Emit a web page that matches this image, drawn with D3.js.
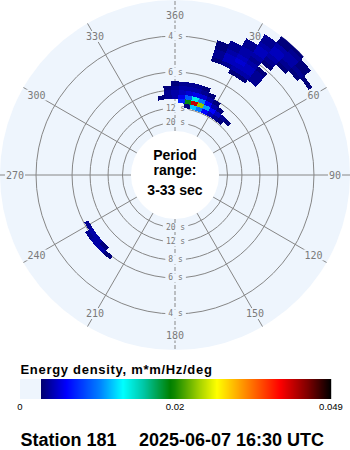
<!DOCTYPE html>
<html>
<head>
<meta charset="utf-8">
<script src="https://cdn.jsdelivr.net/npm/d3@7"></script>
<style>
  html, body { margin: 0; padding: 0; background: #ffffff; }
  svg { display: block; }
</style>
</head>
<body>
<svg id="chart" width="350" height="450"></svg>
<script>
// ---- Directional wave spectrum, station 181 ----
// Frequency rows (Hz); each row holds energy values for consecutive 5° direction bins
const frequencies = [0.09, 0.10, 0.11, 0.12, 0.13, 0.14,
                     0.16, 0.17,
                     0.20, 0.21, 0.22, 0.23, 0.24, 0.25, 0.26, 0.27, 0.28, 0.29, 0.30, 0.31, 0.32, 0.33];
// Direction (deg, clockwise from north) of the first bin in each row
const rowStartDirections = [10, 5, -10, -5, -5, 0,
                            225, 220,
                            30, 20, 20, 20, 20, 20, 25, 30, 30, 35, 35, 35, 40, 40];
// Energy density, m*m/Hz/deg
const rowEnergy = [
  [0.003, 0.012, 0.010, 0.006, 0.0045, 0.0035, 0.003],
  [0.007, 0.019, 0.042, 0.024, 0.011, 0.006, 0.0045, 0.0035, 0.003],
  [0.003, 0.0035, 0.004, 0.0055, 0.009, 0.014, 0.010, 0.006, 0.004, 0.003],
  [0.0035, 0.004, 0.0045, 0.005, 0.0055, 0.005, 0.004, 0.003],
  [0.003, 0.0035, 0.004, 0.004, 0.004, 0.0035, 0.003],
  [0.003, 0.0035, 0.0035, 0.0035, 0.003],
  [0.003, 0.004, 0.004, 0.0035],
  [0.003, 0.004, 0.004, 0.0035],
  [0.003, 0.003],
  [0.003, 0.0035, 0.004, 0.004, 0.0035],
  [0.0035, 0.0045, 0.0045, 0.0045, 0.0035],
  [0.0035, 0.0045, 0.005, 0.0045, 0.0035],
  [0.003, 0.004, 0.0045, 0.004, 0.003],
  [0.003, 0.0035, 0.004, 0.0035],
  [0.0035, 0.004, 0.004, 0.003],
  [0.0035, 0.0045, 0.0035],
  [0.0035, 0.0045, 0.004, 0.003],
  [0.004, 0.0045, 0.0035, 0.003],
  [0.0035, 0.0045, 0.004, 0.0035, 0.003],
  [0.0035, 0.004, 0.004, 0.003],
  [0.003, 0.0035, 0.003],
  [0.003, 0.003]
];

// Axis ticks
const periodTicks = [4, 6, 8, 12, 20];                 // seconds
const directionTicks = [0, 30, 60, 90, 120, 150, 180, 210, 240, 270, 300, 330];
const directionLabels = ["360", "30", "60", "90", "120", "150", "180", "210", "240", "270", "300", "330"];
const periodRange = [3, 33];                            // seconds

// Colour bar
const barTicks = [0, 0.02, 0.049];
const barTickLabels = ["0", "0.02", "0.049"];
const rampStops = [0.0027, 0.0060, 0.0103, 0.0133, 0.0159, 0.0194, 0.0247, 0.0278, 0.0321, 0.0395, 0.0446, 0.049];
const rampColors = ["#00006e", "#0000ff", "#0080ff", "#00ffff", "#00c8a8", "#008000",
                    "#a8d400", "#ffff00", "#ffa000", "#ff0000", "#800000", "#000000"];

const stationName = "Station 181";
const timeStamp = "2025-06-07 16:30 UTC";

// ---- layout ----
const CX = 175, CY = 175, R_OUT = 175, R_IN = 44;
const DF = 0.01, DD = 5;
const DISK = "#eef5fd", GRID = "#868686", LABEL = "#7a7a7a";

const svg = d3.select("#chart");

const rScale = d3.scaleLinear()
  .domain([1 / periodRange[1], 1 / periodRange[0]])
  .range([R_IN, R_OUT]);
const aScale = d3.scaleLinear().domain([0, 360]).range([0, 2 * Math.PI]);
const color = d3.scaleLinear().domain(rampStops).range(rampColors)
  .interpolate(d3.interpolateRgb).clamp(true);

svg.append("defs").append("clipPath").attr("id", "disk-clip")
  .append("circle").attr("cx", 0).attr("cy", 0).attr("r", R_OUT);

const polar = svg.append("g").attr("transform", `translate(${CX},${CY})`);

// background disk
polar.append("circle").attr("r", R_OUT).attr("fill", DISK);

// period circles
polar.append("g").selectAll("circle")
  .data(periodTicks).join("circle")
  .attr("r", p => rScale(1 / p))
  .attr("fill", "none")
  .attr("stroke", GRID)
  .attr("stroke-width", 1);

// direction spokes
const px = (r, d) => r * Math.sin(aScale(d));
const py = (r, d) => -r * Math.cos(aScale(d));
polar.append("g").selectAll("line")
  .data(directionTicks).join("line")
  .attr("x1", d => px(R_IN, d)).attr("y1", d => py(R_IN, d))
  .attr("x2", d => px(R_OUT, d)).attr("y2", d => py(R_OUT, d))
  .attr("stroke", GRID)
  .attr("stroke-width", 1)
  .attr("stroke-dasharray", d => (d % 180 === 0 ? "4,2" : null));

// labels with knocked-out backgrounds
function knockLabel(g, x, y, text, font, size, padX) {
  const t = g.append("text")
    .attr("x", x).attr("y", y)
    .attr("text-anchor", "middle")
    .attr("dominant-baseline", "central")
    .attr("font-family", font)
    .attr("font-size", size)
    .attr("fill", LABEL)
    .text(text);
  const b = t.node().getBBox();
  g.insert("rect", () => t.node())
    .attr("x", b.x - padX).attr("y", b.y)
    .attr("width", b.width + 2 * padX).attr("height", b.height)
    .attr("fill", DISK);
}

const dirLabelG = polar.append("g");
directionTicks.forEach((d, i) => {
  knockLabel(dirLabelG, px(160, d), py(160, d), directionLabels[i], "DejaVu Sans Mono", 10, 1);
});

const perLabelG = polar.append("g");
periodTicks.forEach(p => {
  const r = rScale(1 / p);
  knockLabel(perLabelG, 0.5, -r, `${p} s`, "DejaVu Sans Mono", 8, 3);
  knockLabel(perLabelG, 0.5, r, `${p} s`, "DejaVu Sans Mono", 8, 3);
});

// spectrum cells
const cells = [];
frequencies.forEach((f, i) => {
  rowEnergy[i].forEach((v, j) => {
    cells.push({ f, dir: rowStartDirections[i] + j * DD, v });
  });
});
const cellArc = d3.arc()
  .innerRadius(d => rScale(d.f - DF / 2))
  .outerRadius(d => rScale(d.f + DF / 2))
  .startAngle(d => aScale(d.dir - DD / 2))
  .endAngle(d => aScale(d.dir + DD / 2));

polar.append("g").attr("clip-path", "url(#disk-clip)")
  .attr("shape-rendering", "crispEdges")
  .selectAll("path")
  .data(cells.filter(c => c.v >= rampStops[0])).join("path")
  .attr("d", cellArc)
  .attr("fill", d => color(d.v));

// inner period limit
polar.append("circle").attr("r", R_IN).attr("fill", "#ffffff");

const centre = polar.append("g")
  .attr("font-family", "Liberation Sans, Arial, sans-serif")
  .attr("font-weight", "bold")
  .attr("font-size", 14)
  .attr("text-anchor", "middle")
  .attr("fill", "#000");
centre.append("text").attr("x", 0).attr("y", -15).text("Period");
centre.append("text").attr("x", 0).attr("y", -0.5).text("range:");
centre.append("text").attr("x", 0).attr("y", 20).text(`${periodRange[0]}-${periodRange[1]} sec`);

// ---- colour bar ----
const barScale = d3.scaleLinear().domain(barTicks).range([20, 175, 331]);
const BAR_Y = 379, BAR_H = 20;

svg.append("text")
  .attr("x", 20.5).attr("y", 374)
  .attr("font-family", "Liberation Sans, Arial, sans-serif")
  .attr("font-weight", "bold")
  .attr("font-size", 13)
  .attr("letter-spacing", 0.7)
  .attr("fill", "#000")
  .text("Energy density, m*m/Hz/deg");

const bar = svg.append("g");
const x0 = barScale(rampStops[0]);
bar.append("rect")
  .attr("x", barScale(barTicks[0])).attr("y", BAR_Y)
  .attr("width", x0 - barScale(barTicks[0])).attr("height", BAR_H)
  .attr("fill", DISK);
const cols = d3.range(Math.round(x0), Math.round(barScale(barTicks[barTicks.length - 1])));
bar.selectAll("rect.col")
  .data(cols).join("rect")
  .attr("class", "col")
  .attr("x", d => d).attr("y", BAR_Y)
  .attr("width", 1.2).attr("height", BAR_H)
  .attr("fill", d => color(barScale.invert(d + 0.5)));

svg.append("g").selectAll("text")
  .data(barTicks).join("text")
  .attr("x", d => barScale(d))
  .attr("y", 410)
  .attr("text-anchor", "middle")
  .attr("font-family", "Liberation Sans, Arial, sans-serif")
  .attr("font-size", 9.5)
  .attr("fill", "#000")
  .text((d, i) => barTickLabels[i]);

// ---- footer ----
const footer = svg.append("g")
  .attr("font-family", "Liberation Sans, Arial, sans-serif")
  .attr("font-weight", "bold")
  .attr("font-size", 18)
  .attr("fill", "#000");
footer.append("text").attr("x", 20.5).attr("y", 445.5).text(stationName);
footer.append("text").attr("x", 139).attr("y", 445.5).text(timeStamp);
</script>
</body>
</html>
